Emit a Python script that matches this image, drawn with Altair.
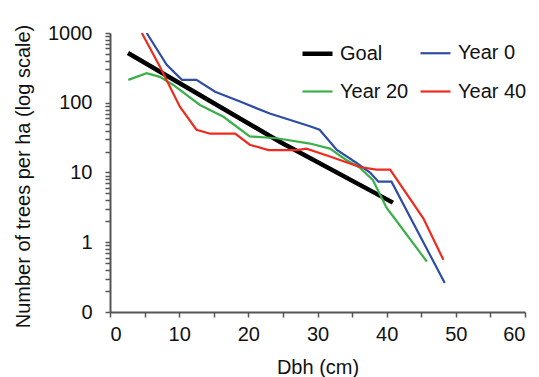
import altair as alt
import pandas as pd

series_names = ["Goal", "Year 0", "Year 20", "Year 40"]
series_colors = ["#000000", "#2f4ea3", "#3bb04a", "#ef2b1f"]
series_widths = [4.5, 2.2, 2.2, 2.2]

goal_dbh = [2.6, 24.6, 40.9]
goal_n = [516, 27.4, 3.7]

y0_dbh = [5.3, 8.2, 10.4, 12.5, 15.2, 18.8, 23.1, 28.9, 30.3, 32.8, 35.6, 37.6, 38.8, 40.7, 48.4]
y0_n = [1000, 350, 213, 213, 144, 104, 70, 46, 41, 21, 13.8, 10, 7.4, 7.4, 0.26]

y20_dbh = [2.65, 5.3, 7.2, 9.15, 13.0, 16.4, 20.2, 24.1, 28.9, 31.8, 34.2, 36.0, 38.0, 40.0, 41.0, 45.8]
y20_n = [213, 265, 235, 180, 93, 63, 33, 31, 26, 22, 15, 12, 7.8, 3.1, 2.3, 0.53]

y40_dbh = [4.6, 7.2, 10.1, 12.5, 14.5, 18.1, 20.2, 22.9, 27.0, 28.4, 31.8, 36.1, 38.5, 40.5, 45.3, 48.2]
y40_n = [1000, 330, 88, 41, 36, 36, 25, 21, 21, 22, 17, 12, 11, 11, 2.2, 0.56]

x_ticks = list(range(0, 65, 5))
y_ticks = [round(m * 10.0 ** e, 3) for e in range(-1, 3) for m in range(1, 10)] + [1000]

rows = []
for name, xs, ys in [("Goal", goal_dbh, goal_n), ("Year 0", y0_dbh, y0_n),
                     ("Year 20", y20_dbh, y20_n), ("Year 40", y40_dbh, y40_n)]:
    for i, (xv, yv) in enumerate(zip(xs, ys)):
        rows.append({"series": name, "dbh": xv, "n": yv, "order": i})
df = pd.DataFrame(rows)

FONT = "Liberation Sans"

legend = alt.Legend(title=None, orient="none", legendX=190, legendY=3,
                    columns=2, direction="horizontal", symbolType="stroke", symbolSize=900,
                    labelFontSize=20, labelFont=FONT, labelColor="#111",
                    rowPadding=11, columnPadding=7, labelOffset=5)

chart = alt.Chart(df).mark_line(clip=True).encode(
    x=alt.X("dbh:Q", scale=alt.Scale(domain=[0, 60], nice=False),
            axis=alt.Axis(title="Dbh (cm)", values=x_ticks,
                          labelExpr="datum.value % 10 == 0 ? datum.value : ''",
                          grid=False, tickSize=5, labelPadding=7,
                          titleY=61, titleBaseline="alphabetic")),
    y=alt.Y("n:Q", scale=alt.Scale(type="log", domain=[0.1, 1000], nice=False),
            axis=alt.Axis(title="Number of trees per ha (log scale)", values=y_ticks,
                          labelExpr="abs(datum.value - 0.1) < 0.001 ? '0' : (indexof([1,10,100,1000], datum.value) >= 0 ? format(datum.value, 'd') : '')",
                          grid=False, tickSize=5, labelPadding=13,
                          titleX=-81, titleY=143, titleBaseline="alphabetic",
                          titleAngle=-90)),
    color=alt.Color("series:N", scale=alt.Scale(domain=series_names, range=series_colors),
                    legend=legend),
    strokeWidth=alt.StrokeWidth("series:N",
                                scale=alt.Scale(type="ordinal", domain=series_names, range=series_widths),
                                legend=legend),
    order="order:Q",
).properties(
    width=415, height=279,
    autosize=alt.AutoSizeParams(type="none"),
    padding={"left": 110, "top": 33, "right": 14, "bottom": 65},
    background="white",
).configure_view(stroke=None).configure_axis(
    labelFont=FONT, titleFont=FONT, labelFontSize=20, titleFontSize=20,
    labelColor="#111", titleColor="#111", titleFontWeight="normal",
    domainColor="#555", tickColor="#555", domainWidth=2, tickWidth=1.5,
)

chart.save("out.html", embed_options={"renderer": "svg", "actions": False})
